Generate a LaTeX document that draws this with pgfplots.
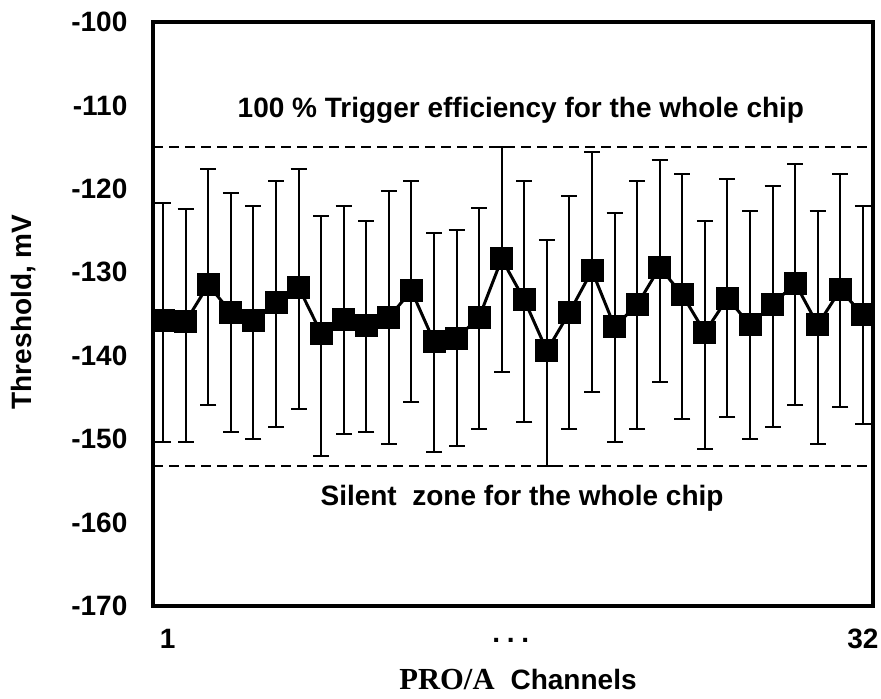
\documentclass[border=0pt]{standalone}
\usepackage{fontspec}
\setmainfont{Liberation Sans}
\newfontfamily\serifbf{Liberation Serif}
\usepackage{pgfplots}
\pgfplotsset{compat=1.18}
\usepackage{pgfplotstable}
\newcommand\ff{\fontsize{14}{16}\selectfont\bfseries}

\pgfplotstableread{
x y ep em
1 -135.8 14.1 14.5
2 -135.9 13.5 14.4
3 -131.5 13.9 14.4
4 -134.8 14.3 14.4
5 -135.8 13.8 14.2
6 -133.6 14.5 15.0
7 -131.8 14.2 14.6
8 -137.3 14.1 14.7
9 -135.7 13.6 13.7
10 -136.4 12.6 12.8
11 -135.4 15.1 15.2
12 -132.2 13.1 13.4
13 -138.3 13.0 13.2
14 -137.9 13.0 12.9
15 -135.4 13.1 13.4
16 -128.4 13.4 13.6
17 -133.3 14.2 14.7
18 -139.4 13.3 13.8
19 -134.8 13.9 14.0
20 -129.8 14.2 14.6
21 -136.5 13.6 13.8
22 -133.9 14.8 14.9
23 -129.4 12.9 13.8
24 -132.7 14.5 14.9
25 -137.2 13.4 14.0
26 -133.1 14.3 14.3
27 -136.3 13.7 13.7
28 -133.9 14.2 14.7
29 -131.3 14.3 14.6
30 -136.3 13.7 14.3
31 -132.1 13.9 14.1
32 -135.1 13.1 13.1
}\datatable

\begin{document}
\begin{tikzpicture}
\useasboundingbox (-76.5pt,-46.5pt) rectangle (364pt,303pt);
\begin{axis}[
  at={(0,0)}, anchor=south west,
  width=360pt, height=292pt, scale only axis,
  xmin=0.55, xmax=32.45,
  ymin=-170, ymax=-100,
  axis line style={line width=2pt},
  major tick length=0pt,
  xtick={1.2,16.4,32},
  xticklabels={1,\vphantom{1}\smash{\raisebox{3pt}{.\hspace{3.4pt}.\hspace{3.4pt}.}},32},
  ytick={-170,-160,-150,-140,-130,-120,-110,-100},
  yticklabels={-170,-160,-150,-140,-130,-120,-110,-100},
  tick label style={font=\ff},
  yticklabel style={xshift=-9.3pt},
  xticklabel style={yshift=-8pt},
  clip=false,
]
\addplot[black, line width=0.8pt, dash pattern=on 5pt off 3pt] coordinates {(0.55,-115) (32.45,-115)};
\addplot[black, line width=0.8pt, dash pattern=on 5pt off 3pt] coordinates {(0.55,-153.2) (32.45,-153.2)};
\addplot[black, line width=1.5pt, mark=square*, mark size=5pt,
  mark options={solid},
  error bars/.cd, y dir=both, y explicit,
  error mark=-,
  error bar style={line width=1pt, black},
  error mark options={rotate=90, line width=1pt, mark size=4pt, black}]
  table[x=x, y=y, y error plus=ep, y error minus=em] {\datatable};
\node[font=\ff] at (axis cs:16.85,-110.6) {100 \% Trigger efficiency for the whole chip};
\node[font=\ff] at (axis cs:16.9,-157.1) {Silent \ zone for the whole chip};
\end{axis}
\node[font=\ff] at (182.5pt,-37pt) {{\serifbf\bfseries\fontsize{15.3}{17}\selectfont PRO/A}\hspace{8pt}Channels};
\node[rotate=90, font=\ff] at (-64.5pt,147pt) {Threshold, mV};
\end{tikzpicture}
\end{document}
